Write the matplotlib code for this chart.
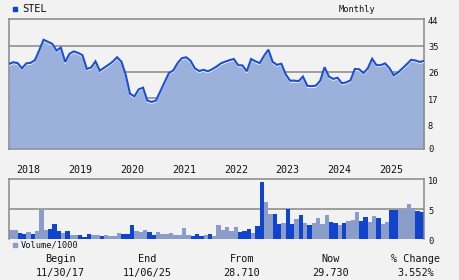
import matplotlib
matplotlib.use("Agg")
import matplotlib.pyplot as plt
import matplotlib.transforms as mtransforms

# ---- data ----
ticker = "STEL"
price = [28.7, 29.3, 29.0, 27.2, 28.9, 29.1, 30.0, 33.4, 37.0, 36.3, 35.6, 33.3, 34.3,
         29.4, 32.2, 33.0, 32.5, 31.7, 27.0, 27.5, 29.6, 26.4, 27.4, 28.4, 29.5, 31.0,
         29.5, 25.0, 18.5, 17.6, 20.0, 20.6, 16.2, 15.7, 16.2, 19.3, 22.5, 25.6, 26.5,
         29.0, 30.7, 31.0, 29.8, 27.2, 26.3, 26.7, 26.2, 26.9, 27.8, 28.9, 29.5, 30.0,
         30.4, 28.3, 28.2, 26.2, 30.4, 29.6, 29.0, 31.5, 33.6, 29.4, 28.4, 28.8, 25.2,
         23.0, 23.0, 22.8, 24.4, 21.2, 21.1, 21.3, 23.0, 27.6, 24.4, 23.6, 24.0, 22.1,
         22.4, 23.1, 27.0, 26.9, 25.6, 27.2, 30.5, 28.3, 28.3, 28.9, 27.3, 24.8, 25.8,
         27.2, 28.6, 30.1, 29.9, 29.4, 29.73]
volume = [1.5, 1.5, 1.0, 0.85, 1.2, 0.85, 1.35, 4.85, 1.5, 1.7, 2.5, 1.35, 1.0, 1.35,
          0.67, 0.67, 0.67, 0.34, 0.85, 0.67, 0.67, 0.5, 0.67, 0.5, 0.5, 1.0, 0.85, 0.85,
          2.35, 1.35, 1.2, 1.5, 1.2, 0.67, 1.2, 0.85, 0.85, 1.0, 0.67, 0.67, 1.85, 0.67,
          0.5, 0.85, 0.5, 0.67, 0.85, 0.5, 2.35, 1.5, 2.0, 1.35, 2.0, 1.2, 1.35, 1.7,
          1.0, 2.2, 9.55, 6.2, 4.2, 4.2, 2.5, 2.7, 5.0, 2.5, 3.35, 4.0, 2.7, 2.35, 2.7,
          3.5, 2.5, 4.0, 2.85, 2.7, 2.35, 2.7, 3.0, 3.2, 4.5, 3.0, 3.7, 2.85, 3.85, 3.5,
          2.5, 2.85, 4.85, 4.85, 5.0, 4.85, 5.9, 5.15, 4.7, 4.5]
vol_kind = "LLDDLDLLLDDDLDLLDDDLLDLLLLDDDLLLDDLLLLLLLLDDDLDLLLLLLDDDLDDLLDDLDDLDLDLLLLDDLDLLLDDLLDLLDDLLLLDD"
year_labels = ["2018", "2019", "2020", "2021", "2022", "2023", "2024", "2025"]
price_ticks = [0, 8, 17, 26, 35, 44]
vol_ticks = [0, 5, 10]
footer_heads = ["Begin", "End", "From", "Now", "% Change"]
footer_vals = ["11/30/17", "11/06/25", "28.710", "29.730", "3.552%"]

# ---- style ----
BG = "#f2f2f2"
GRID = "#888888"
LINE = "#1a4fd0"
FILL = "#9cb0dc"
DARK = "#1144cc"
LIGHT = "#8a9cc8"
MONO = "DejaVu Sans Mono"

W, H = 460, 280
fig = plt.figure(figsize=(W / 100, H / 100), dpi=100, facecolor=BG)

def box(l, t, r, b):
    return [l / W, 1 - b / H, (r - l) / W, (b - t) / H]

# ---- price panel ----
ax = fig.add_axes(box(9, 19.3, 424, 149.3))
ax.set_facecolor(BG)
x = list(range(len(price)))
ax.set_xlim(0, 96)
ax.set_ylim(-0.5, 44)
for v in price_ticks[1:-1]:
    ax.axhline(v, color=GRID, lw=1.1, zorder=1)
ax.fill_between(x, 0, price, color=FILL, lw=0, zorder=2)
off = mtransforms.offset_copy(ax.transData, fig=fig, x=0, y=-1.3, units="dots")
ax.plot(x, price, color="white", lw=0.9, zorder=3, transform=off)
ax.plot(x, price, color=LINE, lw=1.5, zorder=4, solid_joinstyle="miter")
ax.set_xticks([])
ax.set_yticks([])
for s in ax.spines.values():
    s.set_color(GRID)
    s.set_linewidth(1.1)
lab_tr = mtransforms.offset_copy(ax.get_yaxis_transform(), fig=fig, x=4, y=-2, units="dots")
for v in price_ticks:
    ax.text(1, v, str(v), transform=lab_tr, ha="left", va="center",
            family=MONO, fontsize=6.3, color="#111111")

# ---- volume panel ----
av = fig.add_axes(box(9, 179.3, 424, 239))
av.set_facecolor(BG)
av.set_xlim(0, 96)
av.set_ylim(0, 10)
av.axhline(5, color=GRID, lw=1.1, zorder=1)
cols = [DARK if k == "D" else LIGHT for k in vol_kind]
av.bar(list(range(len(volume))), volume, width=1.0, align="edge", color=cols, lw=0, zorder=2)
av.set_xticks([])
av.set_yticks([])
for s in av.spines.values():
    s.set_color(GRID)
    s.set_linewidth(1.1)
av.spines["bottom"].set_visible(False)
vlab_tr = mtransforms.offset_copy(av.get_yaxis_transform(), fig=fig, x=4, y=-2, units="dots")
for v in vol_ticks:
    av.text(1, v, str(v), transform=vlab_tr, ha="left", va="center",
            family=MONO, fontsize=6.3, color="#111111")

# year labels between panels
for k, lab in enumerate(year_labels):
    xv = 4.47 + 12 * k
    av.text(xv, 1 + 9 / 59.7, lab, transform=av.get_xaxis_transform(),
            ha="center", va="center", family=MONO, fontsize=7.2, color="#111111")

# ---- header ----
fig.patches.append(plt.Rectangle((13.3 / W, 1 - 11.3 / H), 4 / W, 4 / H,
                                 transform=fig.transFigure, color=DARK, figure=fig))
fig.text(22.5 / W, 1 - 9 / H, ticker, ha="left", va="center", family=MONO,
         fontsize=7.4, color="#111111")
fig.text(357 / W, 1 - 9 / H, "Monthly", ha="center", va="center", family=MONO,
         fontsize=6.2, color="#111111")

# volume legend
fig.patches.append(plt.Rectangle((13.3 / W, 1 - 247.3 / H), 4 / W, 4 / H,
                                 transform=fig.transFigure, color=LIGHT, figure=fig))
fig.text(20.7 / W, 1 - 245 / H, "Volume/1000", ha="left", va="center", family=MONO,
         fontsize=6.2, color="#111111")

# ---- footer ----
cx = [60, 147, 242, 331, 416]
for c, h, v in zip(cx, footer_heads, footer_vals):
    fig.text(c / W, 1 - 259.3 / H, h, ha="center", va="center", family=MONO,
             fontsize=7.3, color="#111111")
    fig.text(c / W, 1 - 273.3 / H, v, ha="center", va="center", family=MONO,
             fontsize=7.3, color="#111111")

fig.savefig("out.png", dpi=100, facecolor=BG)
